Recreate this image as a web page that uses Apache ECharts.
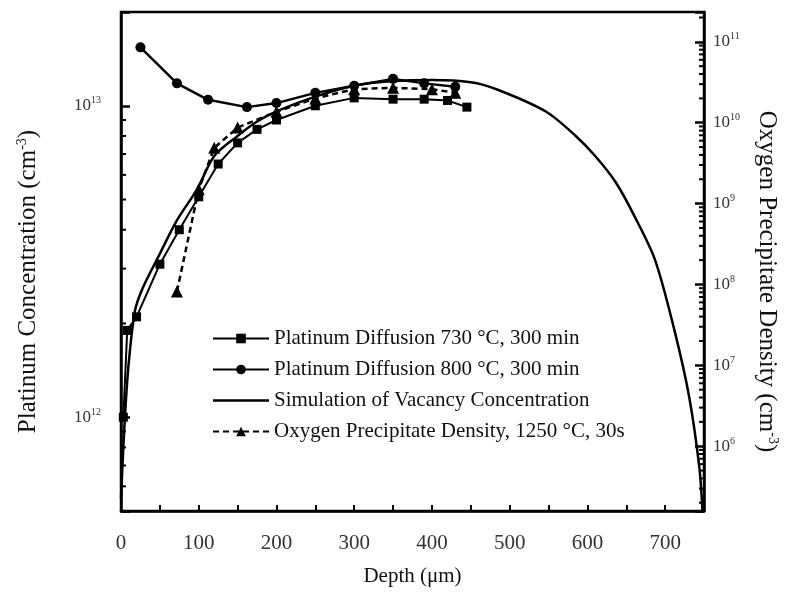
<!DOCTYPE html>
<html>
<head>
<meta charset="utf-8">
<script src="https://cdn.jsdelivr.net/npm/echarts@6.0.0/dist/echarts.min.js"></script>
<style>
  html, body { margin: 0; padding: 0; background: #fff; }
  #chart { width: 788px; height: 592px; }
</style>
</head>
<body>
<div id="chart"></div>
<script>
// depth (um) / concentration (cm^-3)
const pt730 = [
  [3, 1.0e12], [8, 1.9e12], [20, 2.1e12], [50, 3.1e12], [75, 4.0e12],
  [100, 5.1e12], [125, 6.5e12], [150, 7.6e12], [175, 8.4e12], [200, 9.0e12],
  [250, 1.0e13], [300, 1.06e13], [350, 1.05e13], [390, 1.05e13], [420, 1.04e13], [445, 0.99e13]
]
const pt800 = [
  [25, 1.54e13], [72, 1.18e13], [112, 1.045e13], [162, 0.99e13], [200, 1.02e13],
  [250, 1.1e13], [300, 1.16e13], [350, 1.22e13], [390, 1.18e13], [430, 1.15e13]
]
const simulation = [
  [0, 5.5e11], [3, 8e11], [6, 1.1e12], [10, 1.5e12], [18, 2.2e12], [28, 2.6e12],
  [50, 3.35e12], [71, 4.25e12], [98, 5.4e12], [120, 6.9e12], [150, 8.0e12],
  [175, 8.9e12], [200, 9.6e12], [250, 1.07e13], [300, 1.16e13], [350, 1.2e13],
  [400, 1.21e13], [450, 1.19e13], [483, 1.13e13], [546, 9.6e12], [585, 8.0e12],
  [610, 6.9e12], [636, 5.7e12], [661, 4.4e12], [687, 3.2e12], [712, 1.9e12],
  [731, 1.16e12], [744, 6.9e11], [748, 5.0e11]
]
// oxygen precipitate density, right axis
const oxygen = [
  [72, 8.2e7], [100, 1.5e9], [120, 4.9e9], [150, 8.7e9], [200, 1.37e10],
  [250, 2.0e10], [300, 2.6e10], [350, 2.7e10], [400, 2.6e10], [430, 2.35e10]
]
const names = [
  'Platinum Diffusion 730 °C, 300 min',
  'Platinum Diffusion 800 °C, 300 min',
  'Simulation of Vacancy Concentration',
  'Oxygen Precipitate Density, 1250 °C, 30s'
]
const minorMult = [2, 3, 4, 5, 6, 7, 8, 9]
const leftDecades = [11, 12]
const rightDecades = [5, 6, 7, 8, 9, 10, 11]

const font = 'Liberation Serif'
const leftMin = 5e11, leftMax = 2e13
const rightMin = 1.58e5, rightMax = 2.34e11

function minorTicks(decades, lo, hi, x) {
  const out = []
  decades.forEach(d => {
    minorMult.forEach(m => {
      const v = m * Math.pow(10, d)
      if (v > lo * 1.01 && v < hi * 0.99) out.push([x, v])
    })
  })
  return out
}

function tickSeries(data, yIdx, dir) {
  return {
    type: 'custom',
    yAxisIndex: yIdx,
    silent: true,
    data: data,
    renderItem(params, api) {
      const p = api.coord([api.value(0), api.value(1)])
      return {
        type: 'line',
        shape: { x1: p[0], y1: p[1], x2: p[0] + dir * 5, y2: p[1] },
        style: { stroke: '#000', lineWidth: 2 }
      }
    }
  }
}

function powLabel(v) {
  const l = Math.log10(v)
  const e = Math.round(l)
  return Math.abs(l - e) < 1e-6 ? '{b|10}{s|' + e + '}' : ''
}

const supRich = {
  b: { fontFamily: font, fontSize: 17, color: '#333' },
  s: { fontFamily: font, fontSize: 10, color: '#333', padding: [0, 0, 10, 0] }
}
const nameRich = {
  a: { fontFamily: font, fontSize: 25, color: '#111' },
  s: { fontFamily: font, fontSize: 14, color: '#111', padding: [0, 0, 12, 0] }
}

const chart = echarts.init(document.getElementById('chart'))
chart.setOption({
  animation: false,
  backgroundColor: '#fff',
  grid: {
    left: 121, right: 78, top: 12, bottom: 80,
    show: true, borderColor: '#000', borderWidth: 2.5
  },
  legend: {
    data: [
      names[0],
      names[1],
      // plain line, no marker
      { name: names[2], icon: 'path://M0,0L56,0L56,2.5L0,2.5Z' },
      names[3]
    ],
    orient: 'vertical',
    left: 208, top: 324,
    itemWidth: 56, itemHeight: 12, itemGap: 10,
    backgroundColor: '#fff',
    padding: [4, 6, 4, 4],
    textStyle: { fontFamily: font, fontSize: 21, color: '#111' }
  },
  xAxis: {
    type: 'value',
    min: 0, max: 750, interval: 50,
    name: 'Depth (μm)',
    nameLocation: 'middle', nameGap: 55,
    nameTextStyle: { fontFamily: font, fontSize: 21, color: '#111' },
    axisLine: { lineStyle: { color: '#000', width: 2.5 } },
    axisTick: { inside: true, length: 6, lineStyle: { color: '#000', width: 2 } },
    axisLabel: {
      margin: 22, fontFamily: font, fontSize: 21, color: '#333',
      formatter: v => (v % 100 === 0 ? String(v) : '')
    },
    splitLine: { show: false }
  },
  yAxis: [
    {
      type: 'log', min: leftMin, max: leftMax,
      name: '{a|Platinum Concentration (cm}{s|-3}{a|)}',
      nameLocation: 'middle', nameGap: 80,
      nameTextStyle: { rich: nameRich, padding: [0, 40, 0, 0] },
      axisLine: { lineStyle: { color: '#000', width: 2.5 } },
      axisTick: { inside: true, length: 9, lineStyle: { color: '#000', width: 2.5 } },
      axisLabel: { margin: 20, formatter: powLabel, rich: supRich },
      splitLine: { show: false }
    },
    {
      type: 'log', min: rightMin, max: rightMax,
      name: '{a|Oxygen Precipitate Density (cm}{s|-3}{a|)}',
      nameLocation: 'middle', nameGap: 50, nameRotate: -90,
      nameTextStyle: { rich: nameRich, padding: [0, 0, 0, 40] },
      axisLine: { lineStyle: { color: '#000', width: 2.5 } },
      axisTick: { inside: true, length: 9, lineStyle: { color: '#000', width: 2.5 } },
      axisLabel: { margin: 9, formatter: powLabel, rich: supRich },
      splitLine: { show: false }
    }
  ],
  series: [
    {
      name: names[0], type: 'line', data: pt730,
      symbol: 'rect', symbolSize: 9,
      itemStyle: { color: '#000' },
      lineStyle: { color: '#000', width: 2 }
    },
    {
      name: names[1], type: 'line', data: pt800,
      symbol: 'circle', symbolSize: 10,
      itemStyle: { color: '#000' },
      lineStyle: { color: '#000', width: 2.5 }
    },
    {
      name: names[2], type: 'line', data: simulation,
      symbol: 'none', smooth: 0.3,
      itemStyle: { color: '#000' },
      lineStyle: { color: '#000', width: 2.5 }
    },
    {
      name: names[3], type: 'line', data: oxygen, yAxisIndex: 1,
      symbol: 'triangle', symbolSize: 12,
      itemStyle: { color: '#000' },
      lineStyle: { color: '#000', width: 2.5, type: [6, 4] }
    },
    tickSeries(minorTicks(leftDecades, leftMin, leftMax, 0), 0, 1),
    tickSeries(minorTicks(rightDecades, rightMin, rightMax, 750), 1, -1)
  ]
})
</script>
</body>
</html>
